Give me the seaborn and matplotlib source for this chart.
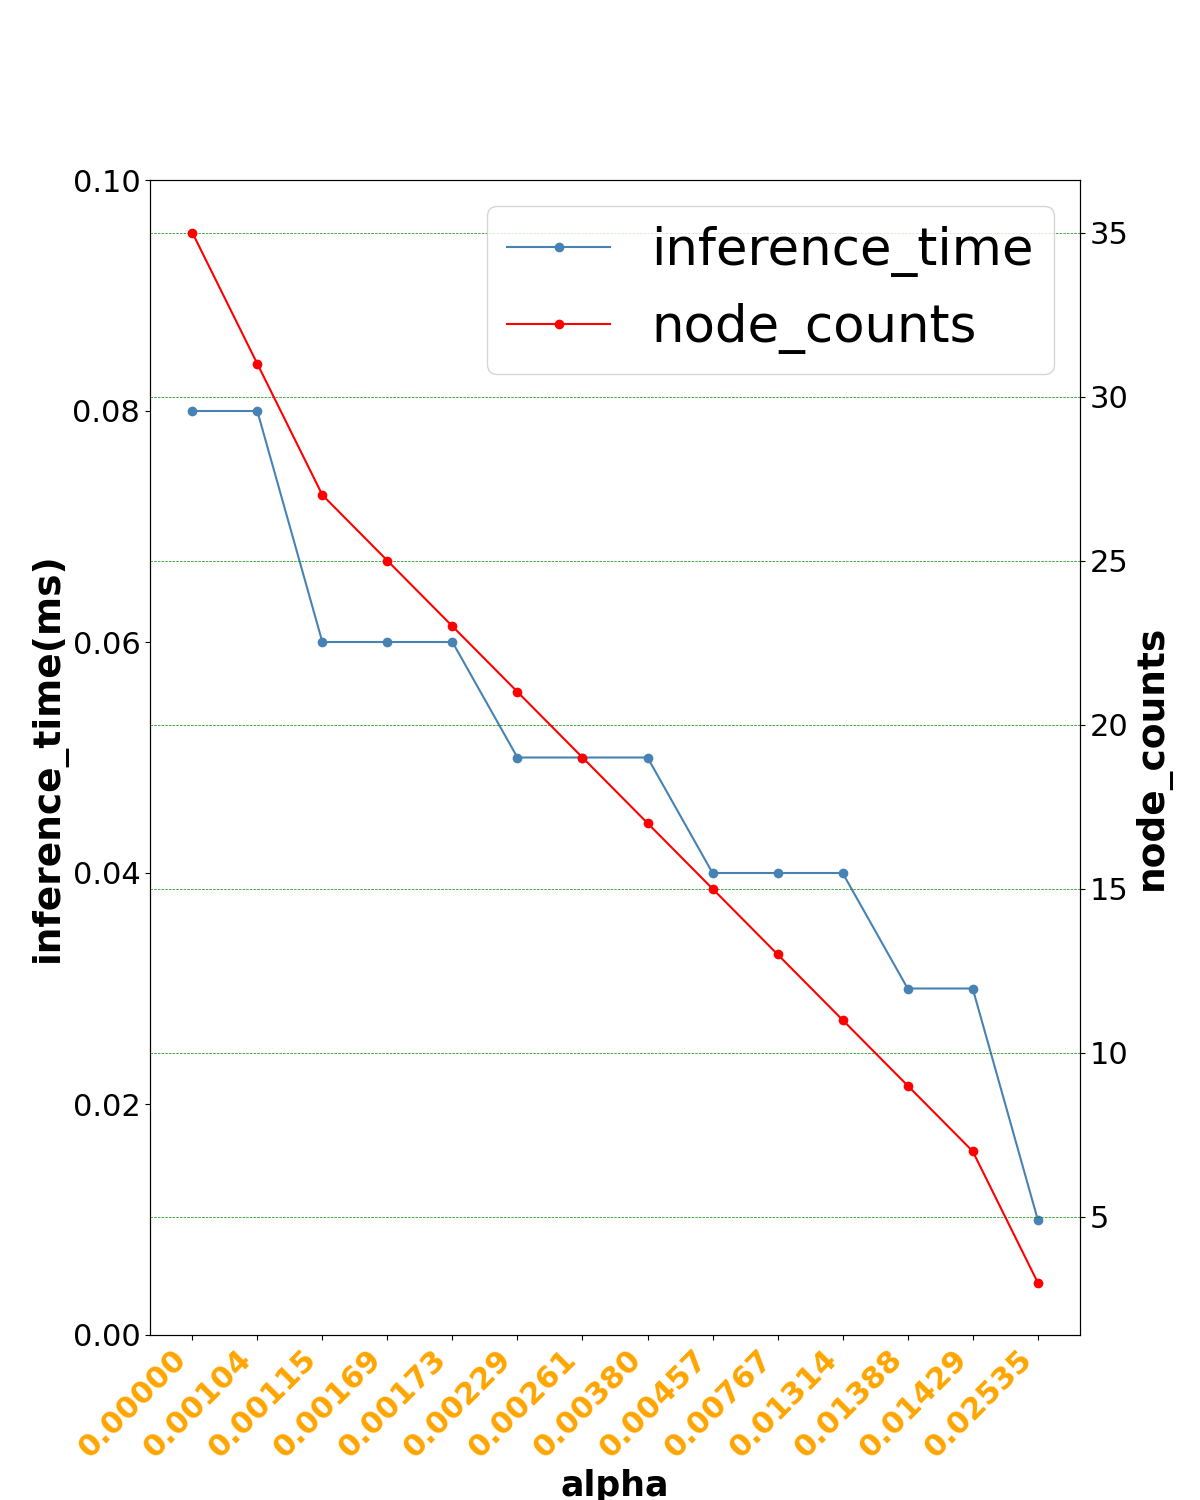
import matplotlib
matplotlib.use("Agg")
import matplotlib.pyplot as plt
import seaborn as sns
import pandas as pd

alpha = ["0.00000", "0.00104", "0.00115", "0.00169", "0.00173", "0.00229", "0.00261",
         "0.00380", "0.00457", "0.00767", "0.01314", "0.01388", "0.01429", "0.02535"]
inference_time = [0.08, 0.08, 0.06, 0.06, 0.06, 0.05, 0.05, 0.05, 0.04, 0.04, 0.04, 0.03, 0.03, 0.01]
node_counts = [35, 31, 27, 25, 23, 21, 19, 17, 15, 13, 11, 9, 7, 3]

df = pd.DataFrame({"alpha": alpha, "inference_time": inference_time, "node_counts": node_counts})

fig, ax = plt.subplots(figsize=(12, 15), dpi=100)
ax2 = ax.twinx()

sns.lineplot(data=df, x="alpha", y="inference_time", ax=ax, color="steelblue", marker="o",
             markersize=7, markeredgewidth=0, sort=False, label="inference_time", legend=False)
sns.lineplot(data=df, x="alpha", y="node_counts", ax=ax2, color="red", marker="o",
             markersize=7, markeredgewidth=0, sort=False, label="node_counts", legend=False)

ax.set_ylim(0, 0.1)
ax.set_yticks([0.0, 0.02, 0.04, 0.06, 0.08, 0.10])
ax.set_yticklabels(["0.00", "0.02", "0.04", "0.06", "0.08", "0.10"])
ax2.set_yticks([5, 10, 15, 20, 25, 30, 35])
ax2.grid(True, axis="y", color="green", linestyle="--", linewidth=0.5)
ax.grid(False)

ax.tick_params(axis="y", labelsize=22)
ax2.tick_params(axis="y", labelsize=22)
ax.tick_params(axis="x", labelsize=22)
for lbl in ax.get_xticklabels():
    lbl.set_rotation(45)
    lbl.set_ha("right")
    lbl.set_color("orange")
    lbl.set_fontweight("bold")

ax.set_xlabel("alpha", fontsize=25, fontweight="bold")
ax.set_ylabel("inference_time(ms)", fontsize=27, fontweight="bold")
ax2.set_ylabel("node_counts", fontsize=27, fontweight="bold")

h1, l1 = ax.get_legend_handles_labels()
h2, l2 = ax2.get_legend_handles_labels()
ax2.legend(h1 + h2, l1 + l2, loc="upper right", fontsize=37)

fig.savefig("out.png", dpi=100)
